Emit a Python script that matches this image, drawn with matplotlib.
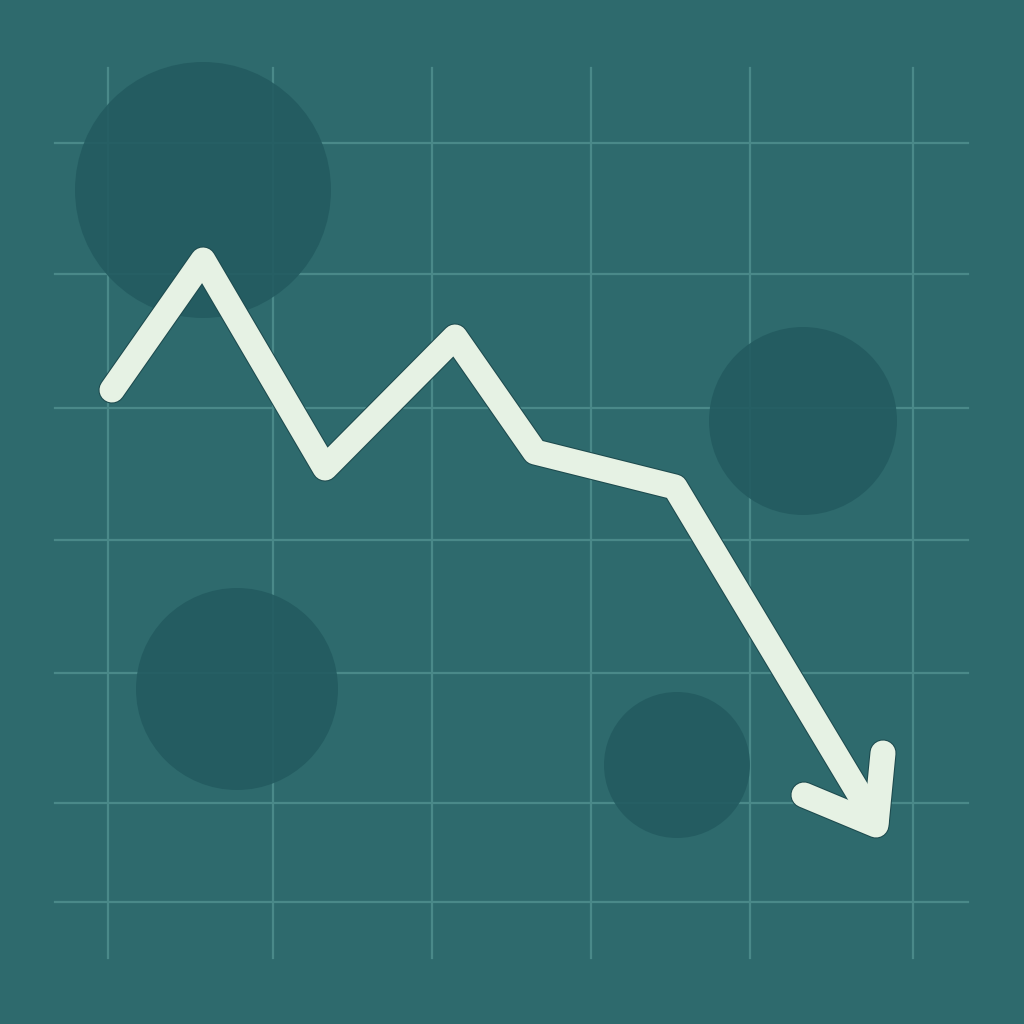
import matplotlib
matplotlib.use('Agg')
import matplotlib.pyplot as plt
from matplotlib.patches import Circle

# trend line, in picture units (y downward)
trend_x = [112, 203, 325, 455, 535, 675, 876]
trend_y = [390, 260, 468, 337, 452, 487, 822]

# arrow head strokes
head_x = [804, 876, 883]
head_y = [795, 825, 753]

# grid positions
grid_x = [108, 273, 432, 591, 750, 913]
grid_y = [143, 274, 408, 540, 673, 803, 902]

# decorative blobs: centre x, centre y, radius
blob_x = [203, 803, 237, 677]
blob_y = [190, 421, 689, 765]
blob_r = [128, 94, 101, 73]

bg = '#2e6a6d'
grid_color = '#4a8989'
blob_color = '#235b60'
line_color = '#e6f2e4'

fig = plt.figure(figsize=(10.24, 10.24), dpi=100)
fig.patch.set_facecolor(bg)
ax = fig.add_axes([0, 0, 1, 1])
ax.set_facecolor(bg)
ax.set_xlim(0, 1024)
ax.set_ylim(1024, 0)
ax.axis('off')

for x in grid_x:
  ax.plot([x, x], [68, 958], color=grid_color, lw=1.6, zorder=1)
for y in grid_y:
  ax.plot([55, 968], [y, y], color=grid_color, lw=1.6, zorder=1)

for cx, cy, r in zip(blob_x, blob_y, blob_r):
  ax.add_patch(Circle((cx, cy), r, facecolor=blob_color, edgecolor='none',
                      alpha=0.9, zorder=2))

# dark rim first, light stroke on top
for xs, ys in [(trend_x, trend_y), (head_x, head_y)]:
  ax.plot(xs, ys, color='#1d4a4e', lw=19.5, solid_capstyle='round',
          solid_joinstyle='round', zorder=3)
for xs, ys in [(trend_x, trend_y), (head_x, head_y)]:
  ax.plot(xs, ys, color=line_color, lw=18, solid_capstyle='round',
          solid_joinstyle='round', zorder=4)

fig.savefig('out.png', dpi=100, facecolor=bg)
